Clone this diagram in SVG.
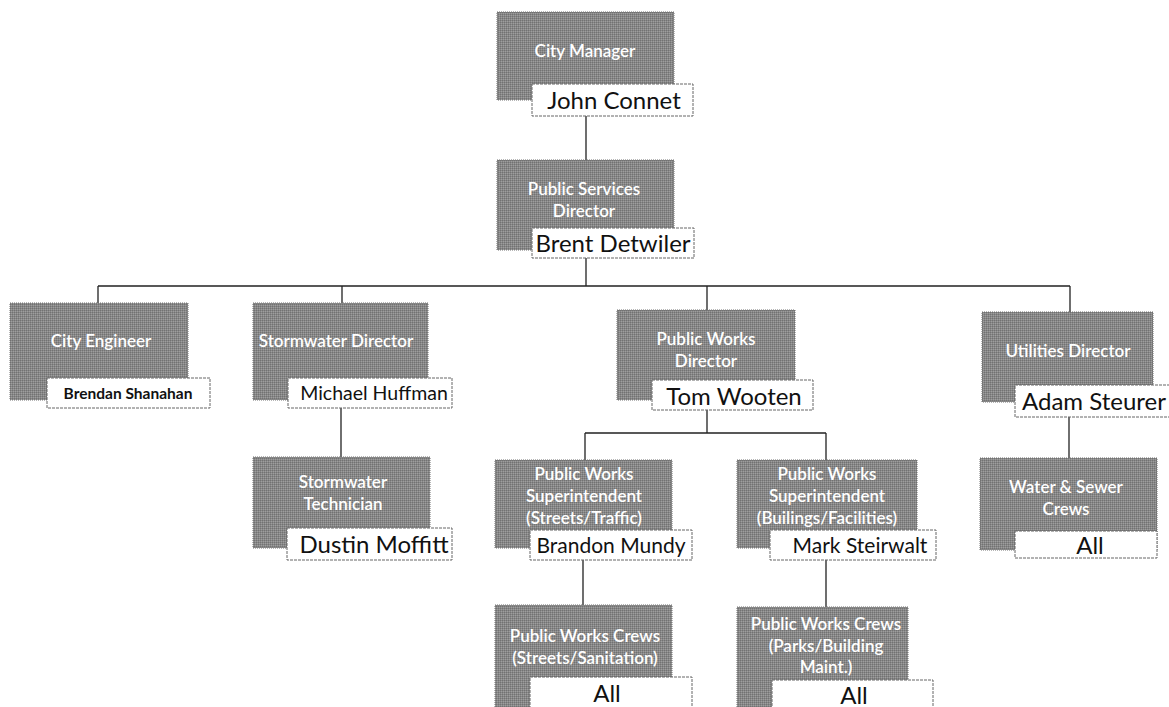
<svg xmlns="http://www.w3.org/2000/svg" width="1169" height="707" viewBox="0 0 1169 707">
<defs>
<pattern id="dither" width="2" height="2" patternUnits="userSpaceOnUse">
<rect width="2" height="2" fill="#878787"/>
<rect width="1" height="1" fill="#727272"/>
<rect x="1" y="1" width="1" height="1" fill="#9e9e9e"/>
</pattern>
</defs>
<style>
.box{fill:url(#dither);stroke:#6f6f6f;stroke-width:1;stroke-dasharray:1 1}
.nb{fill:#fff;stroke:#666;stroke-width:1;stroke-dasharray:3 1}
.t{font-family:Lato,"Open Sans",sans-serif;font-size:17px;font-weight:600;fill:#fff;text-anchor:middle}
.n{font-family:Lato,"Open Sans",sans-serif;font-size:24px;fill:#111;text-anchor:middle}
.c{stroke:#222;stroke-width:1.3;fill:none}
</style>
<rect width="1169" height="707" fill="#fff"/>
<g id="connectors">
<path class="c" d="M586 116V160M586 257V286M98 286H1070M98 286V303M342 286V303M707 286V310M1070 286V312"/>
<path class="c" d="M341 408V457"/>
<path class="c" d="M707 410V433M585 433H826M585 433V460M826 433V460"/>
<path class="c" d="M583 560V605M826 560V607"/>
<path class="c" d="M1069 417V458"/>
</g>
<g id="city-manager">
<rect class="box" x="497" y="12" width="177" height="88"/>
<text class="t" x="585" y="57">City Manager</text>
<rect class="nb" x="532" y="84" width="161" height="32"/>
<text class="n" x="614" y="109">John Connet</text>
</g>
<g id="public-services-director">
<rect class="box" x="497" y="160" width="177" height="90"/>
<text class="t" x="584" y="195">Public Services</text>
<text class="t" x="584" y="217">Director</text>
<rect class="nb" x="532" y="228" width="162" height="30"/>
<text class="n" x="613" y="252">Brent Detwiler</text>
</g>
<g id="city-engineer">
<rect class="box" x="10" y="303" width="178" height="97"/>
<text class="t" x="101" y="347">City Engineer</text>
<rect class="nb" x="47" y="378" width="163" height="30"/>
<text class="n" x="128" y="399" style="font-size:15.5px;font-weight:bold">Brendan Shanahan</text>
</g>
<g id="stormwater-director">
<rect class="box" x="253" y="303" width="175" height="97"/>
<text class="t" x="336" y="347">Stormwater Director</text>
<rect class="nb" x="288" y="378" width="164" height="30"/>
<text class="n" x="374" y="400" style="font-size:19.5px">Michael Huffman</text>
</g>
<g id="stormwater-technician">
<rect class="box" x="253" y="457" width="177" height="91"/>
<text class="t" x="343" y="488">Stormwater</text>
<text class="t" x="343" y="510">Technician</text>
<rect class="nb" x="287" y="528" width="165" height="32"/>
<text class="n" x="374" y="553">Dustin Moffitt</text>
</g>
<g id="public-works-director">
<rect class="box" x="617" y="310" width="178" height="90"/>
<text class="t" x="706" y="345">Public Works</text>
<text class="t" x="706" y="367">Director</text>
<rect class="nb" x="652" y="380" width="161" height="30"/>
<text class="n" x="734" y="405">Tom Wooten</text>
</g>
<g id="utilities-director">
<rect class="box" x="982" y="312" width="171" height="90"/>
<text class="t" x="1068" y="357">Utilities Director</text>
<rect class="nb" x="1015" y="385" width="160" height="32"/>
<text class="n" x="1094" y="410">Adam Steurer</text>
</g>
<g id="pw-superintendent-streets">
<rect class="box" x="495" y="460" width="177" height="88"/>
<text class="t" x="584" y="480">Public Works</text>
<text class="t" x="584" y="502">Superintendent</text>
<text class="t" x="584" y="524">(Streets/Traffic)</text>
<rect class="nb" x="530" y="530" width="162" height="30"/>
<text class="n" x="611" y="553" style="font-size:21px">Brandon Mundy</text>
</g>
<g id="pw-superintendent-buildings">
<rect class="box" x="737" y="460" width="180" height="88"/>
<text class="t" x="827" y="480">Public Works</text>
<text class="t" x="827" y="502">Superintendent</text>
<text class="t" x="827" y="524">(Builings/Facilities)</text>
<rect class="nb" x="770" y="530" width="166" height="30"/>
<text class="n" x="860" y="553" style="font-size:21px">Mark Steirwalt</text>
</g>
<g id="water-sewer-crews">
<rect class="box" x="980" y="458" width="177" height="92"/>
<text class="t" x="1066" y="493">Water &amp; Sewer</text>
<text class="t" x="1066" y="515">Crews</text>
<rect class="nb" x="1015" y="531" width="142" height="27"/>
<text class="n" x="1090" y="554">All</text>
</g>
<g id="pw-crews-streets">
<rect class="box" x="495" y="605" width="177" height="110"/>
<text class="t" x="585" y="642">Public Works Crews</text>
<text class="t" x="585" y="664">(Streets/Sanitation)</text>
<rect class="nb" x="530" y="677" width="162" height="40"/>
<text class="n" x="607" y="702">All</text>
</g>
<g id="pw-crews-parks">
<rect class="box" x="737" y="607" width="171" height="110"/>
<text class="t" x="826" y="630">Public Works Crews</text>
<text class="t" x="826" y="652">(Parks/Building</text>
<text class="t" x="826" y="673">Maint.)</text>
<rect class="nb" x="772" y="680" width="161" height="40"/>
<text class="n" x="854" y="704">All</text>
</g>
</svg>
